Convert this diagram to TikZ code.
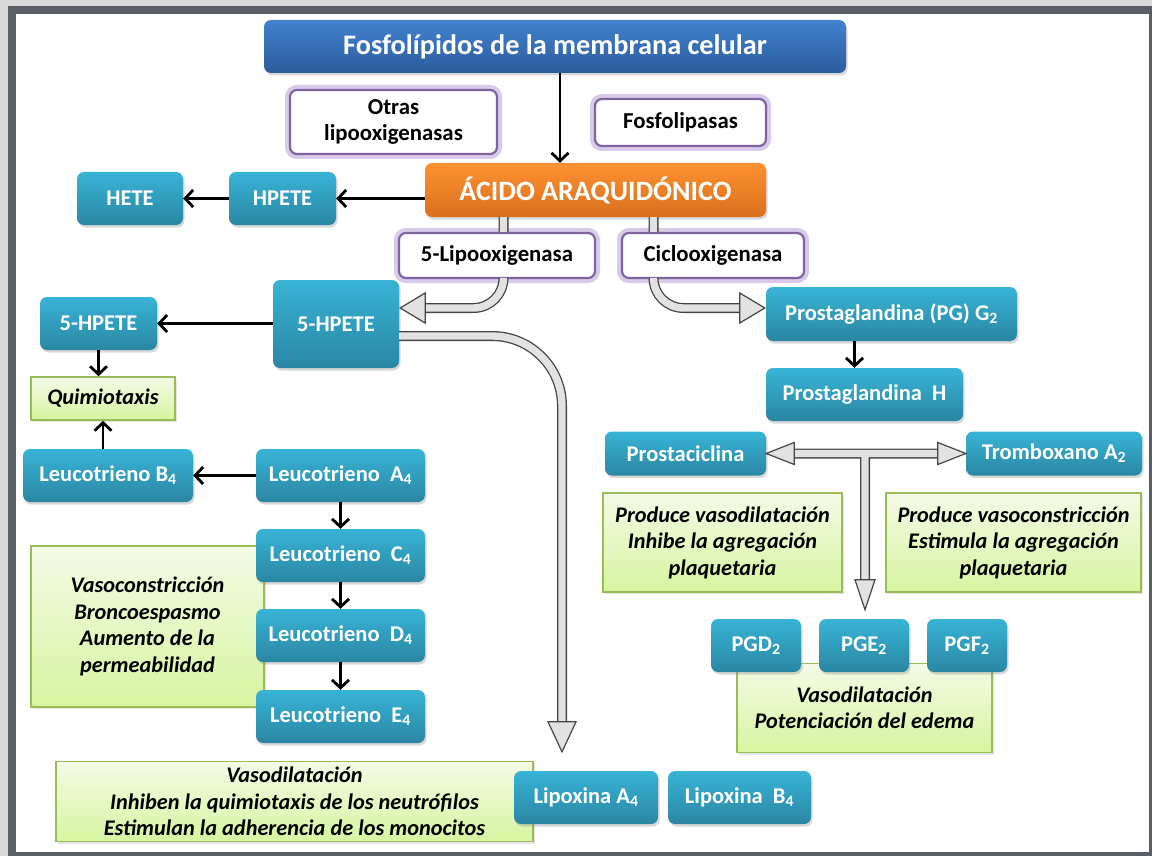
\documentclass[tikz,border=0pt]{standalone}
\usepackage{fontspec}
\setmainfont{Carlito}
\usetikzlibrary{arrows.meta,calc,shadows}

\definecolor{cyantop}{HTML}{38B4D6}
\definecolor{cyanbot}{HTML}{2A86A3}
\definecolor{bluetop}{HTML}{4282CF}
\definecolor{bluebot}{HTML}{2C5C9C}
\definecolor{orangetop}{HTML}{FC9232}
\definecolor{orangebot}{HTML}{DA6F1C}
\definecolor{enzline}{HTML}{8064A2}
\definecolor{enzglow}{HTML}{D8CAE8}
\definecolor{notetop}{HTML}{F4FAE6}
\definecolor{notebot}{HTML}{D6F5A0}
\definecolor{noteline}{HTML}{9BBB59}
\definecolor{framegrey}{HTML}{5A5E66}
\definecolor{blockfill}{HTML}{E2E2E2}
\definecolor{blockline}{HTML}{454545}

\tikzset{
  cyanbox/.style={rounded corners=7pt, top color=cyantop, bottom color=cyanbot, text=white,
    font={\fontsize{22.5}{26}\selectfont\bfseries}, inner sep=2pt,
    drop shadow={opacity=0.3, shadow xshift=1.5pt, shadow yshift=-2.5pt}},
  titlebox/.style={cyanbox, top color=bluetop, bottom color=bluebot, font={\fontsize{28.3}{31}\selectfont\bfseries}},
  acidbox/.style={cyanbox, top color=orangetop, bottom color=orangebot, font={\fontsize{28}{31}\selectfont\bfseries}},
  enzbox/.style={rounded corners=7pt, fill=white, draw=enzline, line width=2.2pt,
    preaction={draw=enzglow, line width=10pt}, align=center, inner sep=2pt,
    font={\fontsize{22.8}{26}\selectfont\bfseries}},
  notebox/.style={top color=notetop, bottom color=notebot, draw=noteline, line width=1.6pt,
    align=center, inner sep=2pt, font={\fontsize{22.3}{26.5}\selectfont\bfseries\itshape},
    drop shadow={opacity=0.2, shadow xshift=1.5pt, shadow yshift=-2pt}},
  arr/.style={line width=2.8pt, -{Straight Barb[length=8pt,width=17pt]}},
  bout/.style={draw=blockline, line width=10pt},
  bin/.style={draw=blockfill, line width=7.4pt, preaction={bout}},
  bhead/.style={fill=blockfill, draw=blockline, line width=1.2pt, line join=miter}
}
% block arrow head: tip point, angle, length, half width
\newcommand{\bhead}[4]{\draw[bhead,shift={#1},rotate=#2] (0,0) -- (-#3,#4) -- (-#3,-#4) -- cycle;}

\begin{document}
\begin{tikzpicture}[x=1pt,y=-1pt]
\useasboundingbox (0,0) rectangle (1152,856);
\fill[gray!30] (0,0) rectangle (1152,856);
\fill[framegrey] (8,6) rectangle (1152,856);
\fill[white] (16,14) rectangle (1149,852);

% top
\node[titlebox, minimum width=582pt, minimum height=53pt] (fosfo) at (555,46.5) {Fosfolípidos de la membrana celular};
\node[enzbox, minimum width=207pt, minimum height=64pt] (otras) at (393.5,122) {Otras\\lipooxigenasas};
\node[enzbox, minimum width=171pt, minimum height=47pt] (fosfolip) at (680.5,122.5) {Fosfolipasas};
\node[acidbox, minimum width=341pt, minimum height=54pt] (acido) at (595.5,190) {ÁCIDO ARAQUIDÓNICO};
\node[cyanbox, minimum width=106pt, minimum height=53pt] (hete) at (130,198.5) {HETE};
\node[cyanbox, minimum width=107pt, minimum height=53pt] (hpete) at (282.5,198.5) {HPETE};
\node[enzbox, minimum width=196pt, minimum height=45pt] (lipo) at (497,255.5) {5-Lipooxigenasa};
\node[enzbox, minimum width=182pt, minimum height=45pt] (ciclo) at (713,255.5) {Ciclooxigenasa};

% lipooxigenasa
\node[cyanbox, minimum width=117pt, minimum height=53pt] (hpeteL) at (98.5,323.5) {5-HPETE};
\node[cyanbox, minimum width=126pt, minimum height=88pt] (hpeteB) at (336,324) {5-HPETE};
\node[notebox, minimum width=144pt, minimum height=43pt] (quimio) at (103,398.5) {Quimiotaxis};
\node[cyanbox, minimum width=170pt, minimum height=53pt] (ltb) at (108,475.5) {Leucotrieno B\textsubscript{4}};
\node[cyanbox, minimum width=169pt, minimum height=53pt] (lta) at (340.5,475.5) {Leucotrieno\ \ A\textsubscript{4}};
\node[notebox, minimum width=233pt, minimum height=161pt] (ltnote) at (147.5,626.5) {Vasoconstricción\\Broncoespasmo\\Aumento de la\\permeabilidad};
\node[cyanbox, minimum width=169pt, minimum height=53pt] (ltc) at (340.5,555.5) {Leucotrieno\ \ C\textsubscript{4}};
\node[cyanbox, minimum width=169pt, minimum height=53pt] (ltd) at (340.5,635.5) {Leucotrieno\ \ D\textsubscript{4}};
\node[cyanbox, minimum width=169pt, minimum height=53pt] (lte) at (340.5,716.5) {Leucotrieno\ \ E\textsubscript{4}};
\node[notebox, minimum width=477pt, minimum height=80pt] (lxnote) at (294.5,801.5) {Vasodilatación\\Inhiben la quimiotaxis de los neutrófilos\\Estimulan la adherencia de los monocitos};
\node[cyanbox, minimum width=144pt, minimum height=53pt] (lxa) at (586,797.5) {Lipoxina A\textsubscript{4}};
\node[cyanbox, minimum width=143pt, minimum height=53pt] (lxb) at (739.5,797.5) {Lipoxina\ \ B\textsubscript{4}};

% ciclooxigenasa
\node[cyanbox, minimum width=251pt, minimum height=54pt] (pgg) at (891.5,314) {Prostaglandina (PG) G\textsubscript{2}};
\node[cyanbox, minimum width=197pt, minimum height=53pt] (pgh) at (864.5,394.5) {Prostaglandina\ \ H};
\node[cyanbox, minimum width=161pt, minimum height=44pt] (prostac) at (685.5,453.5) {Prostaciclina};
\node[cyanbox, minimum width=176pt, minimum height=44pt] (trombox) at (1054,453.5) {Tromboxano A\textsubscript{2}};
\node[notebox, minimum width=239pt, minimum height=99pt] (vdnote) at (722.5,542.5) {Produce vasodilatación\\Inhibe la agregación\\plaquetaria};
\node[notebox, minimum width=255pt, minimum height=99pt] (vcnote) at (1013.5,542.5) {Produce vasoconstricción\\Estimula la agregación\\plaquetaria};
\node[notebox, minimum width=255pt, minimum height=89pt] (vpnote) at (864.5,708) {Vasodilatación\\Potenciación del edema};
\node[cyanbox, minimum width=90pt, minimum height=53pt] (pgd) at (756,645.5) {PGD\textsubscript{2}};
\node[cyanbox, minimum width=90pt, minimum height=53pt] (pge) at (864,645.5) {PGE\textsubscript{2}};
\node[cyanbox, minimum width=80pt, minimum height=53pt] (pgf) at (967,645.5) {PGF\textsubscript{2}};

% black arrows
\coordinate (fdown) at ([xshift=5pt]fosfo.south);
\coordinate (hdown) at ([xshift=-10pt]pgh.north);
\draw[arr] (fdown) -- (fdown |- acido.north);
\draw[arr] (hpete.east -| acido.west) -- (hpete.east);
\draw[arr] (hpete) -- (hete);
\draw[arr] (hpeteL.east -| hpeteB.west) -- (hpeteL.east);
\draw[arr] (hpeteL.south) -- (hpeteL.south |- quimio.north);
\draw[arr] (quimio.south |- ltb.north) -- (quimio.south);
\draw[arr] (lta) -- (ltb);
\draw[arr] (lta) -- (ltc);
\draw[arr] (ltc) -- (ltd);
\draw[arr] (ltd) -- (lte);
\draw[arr] (hdown |- pgg.south) -- (hdown);

% block arrows
\coordinate (lstub) at ($(acido.south)+(-92,0)$);
\coordinate (cstub) at ($(acido.south)+(58,0)$);
\coordinate (ltip) at ($(hpeteB.east)+(1,-16)$);
\coordinate (ctip) at ($(pgg.west)+(-1,-6)$);
\coordinate (lxtip) at ($(lxa.north)+(-24,-19)$);
\coordinate (ttip) at ($(pge.north)+(1,-9)$);
\draw[bin] (lstub) -- (lstub |- lipo.north) (cstub) -- (cstub |- ciclo.north)
  [rounded corners=30pt] (lstub |- lipo.south) |- ($(ltip)+(25,0)$)
  (cstub |- ciclo.south) |- ($(ctip)+(-25,0)$)
  [rounded corners=70pt] ($(hpeteB.east)+(0,12)$) -| ($(lxtip)+(0,-30)$)
  [sharp corners] ($(prostac.east)+(28,0)$) -- ($(trombox.west)+(-28,0)$)
  (ttip |- prostac.east) -- ($(ttip)+(0,-30)$);
\bhead{(ltip)}{180}{25}{15}
\bhead{(ctip)}{0}{25}{15}
\bhead{(lxtip)}{-90}{30}{14}
\bhead{(prostac.east)}{180}{28}{11}
\bhead{(trombox.west)}{0}{28}{11}
\bhead{(ttip)}{-90}{30}{10}
\end{tikzpicture}
\end{document}
